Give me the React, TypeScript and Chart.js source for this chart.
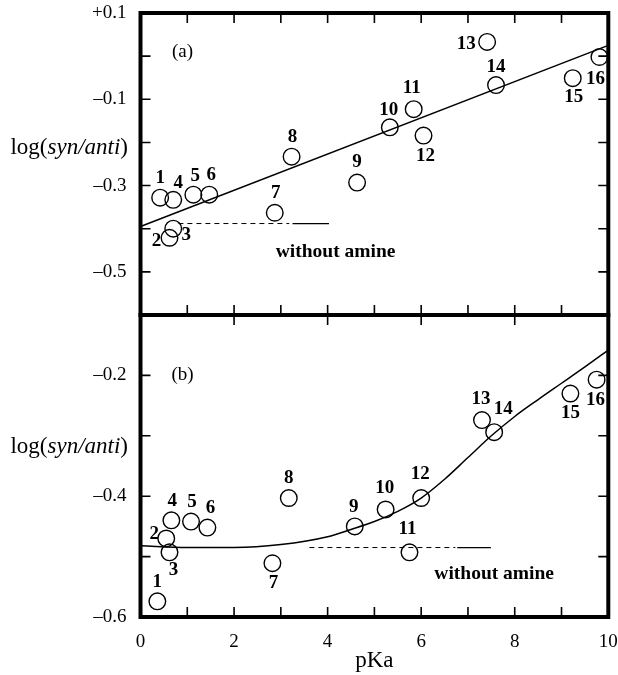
import React, { useEffect, useRef } from "react";
import { Chart, registerables } from "chart.js";

Chart.register(...registerables);

// ---------- data ----------
const compounds = ["1", "2", "3", "4", "5", "6", "7", "8", "9", "10", "11", "12", "13", "14", "15", "16"];

// panel (a)
const pKaA = [0.42, 0.62, 0.7, 0.7, 1.13, 1.47, 2.87, 3.23, 4.63, 5.33, 5.84, 6.05, 7.41, 7.6, 9.24, 9.81];
const logA = [-0.328, -0.421, -0.4, -0.333, -0.321, -0.321, -0.363, -0.233, -0.293, -0.165, -0.123, -0.184, 0.033, -0.067, -0.051, -0.002];
const fitAx = [0, 10];
const fitAy = [-0.395, 0.025];
const noAmineA = -0.388;
const noAmineADashX = [0.81, 3.18];
const noAmineASolidX = [3.25, 4.03];

// panel (b)
const pKaB = [0.36, 0.55, 0.62, 0.66, 1.08, 1.43, 2.82, 3.17, 4.58, 5.24, 5.75, 6.0, 7.3, 7.56, 9.19, 9.75];
const logB = [-0.574, -0.47, -0.493, -0.44, -0.442, -0.452, -0.511, -0.403, -0.45, -0.422, -0.493, -0.403, -0.274, -0.294, -0.23, -0.207];
const curveBx = [0, 1, 2, 3, 4, 4.5, 5, 5.5, 6, 6.5, 7, 7.5, 8, 8.5, 9, 9.5, 10];
const curveBy = [-0.482, -0.485, -0.485, -0.48, -0.467, -0.455, -0.442, -0.425, -0.403, -0.372, -0.336, -0.3, -0.268, -0.24, -0.213, -0.186, -0.158];
const noAmineB = -0.485;
const noAmineBDashX = [3.61, 6.73];
const noAmineBSolidX = [6.77, 7.49];

// tick labels
const xTickValues = [0, 2, 4, 6, 8, 10];
const xTickLabels = ["0", "2", "4", "6", "8", "10"];
const yTickValuesA = [0.1, -0.1, -0.3, -0.5];
const yTickLabelsA = ["+0.1", "\u20130.1", "\u20130.3", "\u20130.5"];
const yTickValuesB = [-0.2, -0.4, -0.6];
const yTickLabelsB = ["\u20130.2", "\u20130.4", "\u20130.6"];

// label offsets (px, relative to each circle)
const labelOffsetA = [[0, -20], [-13, 3], [13, 6], [5, -17], [2, -19], [2, -20], [1, -20], [1, -20], [0, -20], [-1, -17], [-2, -21], [2, 21], [-21, 2], [0, -18], [1, 19], [-4, 22]];
const labelOffsetB = [[0, -19], [-12, -4], [4, 18], [1, -19], [1, -19], [3, -20], [1, 20], [0, -20], [-1, -19], [-1, -21], [-2, -23], [-1, -24], [-1, -21], [9, -23], [0, 20], [-1, 20]];

const SERIF = "'Liberation Serif', 'Times New Roman', serif";

function pts(xs: number[], ys: number[]) {
  return xs.map((x, i) => ({ x, y: ys[i] }));
}
function flat(xs: number[], y: number) {
  return xs.map((x) => ({ x, y }));
}
function labelFor(values: number[], labels: string[], v: number) {
  const r = Math.round(v * 10);
  const i = values.findIndex((t) => Math.round(t * 10) === r);
  return i >= 0 ? labels[i] : "";
}

const panelPlugin = {
  id: "panelDecor",
  afterDatasetsDraw(chart: any) {
    const ctx = chart.ctx as CanvasRenderingContext2D;
    const xs = chart.scales.x;
    const yA = chart.scales.yA;
    const yB = chart.scales.yB;
    const left = chart.chartArea.left;
    const right = chart.chartArea.right;
    ctx.save();
    ctx.strokeStyle = "#000";
    ctx.fillStyle = "#000";

    // inward ticks
    ctx.lineWidth = 1.6;
    const tl = 10;
    ctx.beginPath();
    for (let k = 1; k <= 9; k++) {
      const px = xs.getPixelForValue(k);
      ctx.moveTo(px, yA.top); ctx.lineTo(px, yA.top + tl);
      ctx.moveTo(px, yA.bottom); ctx.lineTo(px, yA.bottom - tl);
      if (k % 2 === 0) { ctx.moveTo(px, yB.top); ctx.lineTo(px, yB.top + tl); }
      ctx.moveTo(px, yB.bottom); ctx.lineTo(px, yB.bottom - tl);
    }
    for (let v = -5; v <= 0; v++) {
      const py = yA.getPixelForValue(v / 10);
      ctx.moveTo(left, py); ctx.lineTo(left + tl, py);
      ctx.moveTo(right, py); ctx.lineTo(right - tl, py);
    }
    for (let v = -5; v <= -2; v++) {
      const py = yB.getPixelForValue(v / 10);
      ctx.moveTo(left, py); ctx.lineTo(left + tl, py);
      ctx.moveTo(right, py); ctx.lineTo(right - tl, py);
    }
    ctx.stroke();

    // frames
    ctx.lineWidth = 4;
    ctx.strokeRect(left, yA.top, right - left, yA.bottom - yA.top);
    ctx.strokeRect(left, yB.top, right - left, yB.bottom - yB.top);

    // compound labels
    ctx.font = `bold 19px ${SERIF}`;
    ctx.textAlign = "center";
    ctx.textBaseline = "middle";
    const metaA = chart.getDatasetMeta(0);
    metaA.data.forEach((el: any, i: number) => {
      ctx.fillText(compounds[i], el.x + labelOffsetA[i][0], el.y + labelOffsetA[i][1]);
    });
    const metaB = chart.getDatasetMeta(4);
    metaB.data.forEach((el: any, i: number) => {
      ctx.fillText(compounds[i], el.x + labelOffsetB[i][0], el.y + labelOffsetB[i][1]);
    });

    // "without amine"
    ctx.font = `bold 19.5px ${SERIF}`;
    ctx.fillText("without amine", xs.getPixelForValue(4.17), yA.getPixelForValue(noAmineA) + 28);
    ctx.fillText("without amine", xs.getPixelForValue(7.56), yB.getPixelForValue(noAmineB) + 26);

    // panel tags
    ctx.font = `19px ${SERIF}`;
    ctx.fillText("(a)", left + 42, yA.top + 39);
    ctx.fillText("(b)", left + 42, yB.top + 60);

    // y axis titles with italic syn/anti
    const drawTitle = (cy: number) => {
      const rightX = 128;
      const f1 = `23px ${SERIF}`;
      const f2 = `italic 23px ${SERIF}`;
      ctx.textAlign = "left";
      ctx.font = f1;
      const w1 = ctx.measureText("log(").width;
      const w3 = ctx.measureText(")").width;
      ctx.font = f2;
      const w2 = ctx.measureText("syn/anti").width;
      const x0 = rightX - (w1 + w2 + w3);
      ctx.font = f1;
      ctx.fillText("log(", x0, cy);
      ctx.font = f2;
      ctx.fillText("syn/anti", x0 + w1, cy);
      ctx.font = f1;
      ctx.fillText(")", x0 + w1 + w2, cy);
    };
    drawTitle(148);
    drawTitle(447);

    ctx.restore();
  },
};

export default function App() {
  const ref = useRef<HTMLCanvasElement | null>(null);
  useEffect(() => {
    if (!ref.current) return;
    const circle = {
      showLine: false,
      pointRadius: 8.3,
      pointHoverRadius: 8.3,
      pointBorderColor: "#000",
      pointBackgroundColor: "rgba(0,0,0,0)",
      pointBorderWidth: 1.4,
    };
    const line = { showLine: true, pointRadius: 0, borderColor: "#000", borderWidth: 1.5, fill: false };
    const tickFont = { family: SERIF, size: 19 };
    const noPad = (s: any) => {
      s.paddingTop = 0;
      s.paddingBottom = 0;
    };
    const chart = new Chart(ref.current, {
      type: "scatter",
      data: {
        datasets: [
          { ...circle, data: pts(pKaA, logA), yAxisID: "yA" } as any,
          { ...line, data: pts(fitAx, fitAy), yAxisID: "yA" },
          { ...line, borderWidth: 1, borderDash: [5, 4], data: flat(noAmineADashX, noAmineA), yAxisID: "yA" },
          { ...line, borderWidth: 1.2, data: flat(noAmineASolidX, noAmineA), yAxisID: "yA" },
          { ...circle, data: pts(pKaB, logB), yAxisID: "yB" } as any,
          { ...line, data: pts(curveBx, curveBy), yAxisID: "yB", cubicInterpolationMode: "monotone" },
          { ...line, borderWidth: 1, borderDash: [5, 4], data: flat(noAmineBDashX, noAmineB), yAxisID: "yB" },
          { ...line, borderWidth: 1.2, data: flat(noAmineBSolidX, noAmineB), yAxisID: "yB" },
        ],
      },
      options: {
        animation: false,
        responsive: true,
        maintainAspectRatio: false,
        layout: { padding: { top: 13, right: 7.5, left: 0, bottom: 0 } },
        plugins: { legend: { display: false }, tooltip: { enabled: false } },
        events: [],
        scales: {
          x: {
            type: "linear",
            min: 0,
            max: 10,
            grid: { display: false, drawTicks: false },
            border: { display: false },
            ticks: {
              stepSize: 1,
              autoSkip: false,
              maxRotation: 0,
              padding: 14,
              color: "#000",
              font: tickFont,
              callback: (v: any) => {
                const i = xTickValues.indexOf(Number(v));
                return i >= 0 ? xTickLabels[i] : "";
              },
            },
            title: { display: true, text: "pKa", color: "#000", font: { family: SERIF, size: 23 }, padding: 0 },
            afterFit: (s: any) => {
              s.height = 58;
              s.paddingLeft = 0;
              s.paddingRight = 0;
            },
          },
          yB: {
            type: "linear",
            position: "left",
            stack: "panels",
            stackWeight: 302,
            weight: 0,
            min: -0.6,
            max: -0.1,
            grid: { display: false, drawTicks: false },
            border: { display: false },
            ticks: {
              stepSize: 0.1,
              autoSkip: false,
              padding: 14,
              color: "#000",
              font: tickFont,
              callback: (v: any) => labelFor(yTickValuesB, yTickLabelsB, Number(v)),
            },
            afterFit: (s: any) => {
              s.width = 140.5;
              noPad(s);
            },
          },
          yA: {
            type: "linear",
            position: "left",
            stack: "panels",
            stackWeight: 302,
            weight: 1,
            min: -0.6,
            max: 0.1,
            grid: { display: false, drawTicks: false },
            border: { display: false },
            ticks: {
              stepSize: 0.1,
              autoSkip: false,
              padding: 14,
              color: "#000",
              font: tickFont,
              callback: (v: any) => labelFor(yTickValuesA, yTickLabelsA, Number(v)),
            },
            afterFit: (s: any) => {
              s.width = 140.5;
              noPad(s);
            },
          },
        } as any,
      },
      plugins: [panelPlugin],
    });
    return () => chart.destroy();
  }, []);

  return (
    <div style={{ position: "fixed", left: 0, top: 0, width: 618, height: 675, background: "#fff" }}>
      <canvas ref={ref} style={{ display: "block" }} />
    </div>
  );
}
